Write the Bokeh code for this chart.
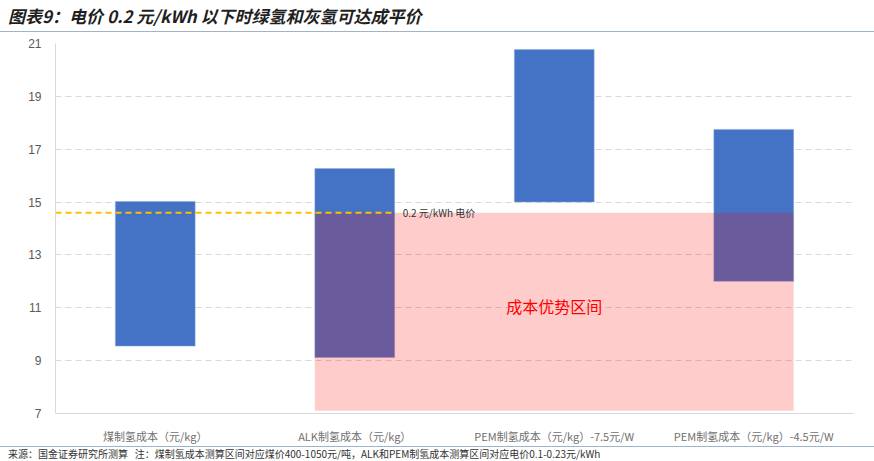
from bokeh.plotting import figure
from bokeh.models import ColumnDataSource, Range1d, FactorRange, FixedTicker, Div
from bokeh.layouts import column
from bokeh.core.properties import value
from bokeh.embed import file_html
from bokeh.resources import INLINE

# ---- data ----
categories = ["煤制氢成本（元/kg）", "ALK制氢成本（元/kg）",
              "PEM制氢成本（元/kg）-7.5元/W", "PEM制氢成本（元/kg）-4.5元/W"]
low = [9.55, 9.12, 15.0, 12.0]
high = [15.02, 16.27, 20.77, 17.75]
y_ticks = [7, 9, 11, 13, 15, 17, 19, 21]
threshold = 14.6
threshold_label = "0.2 元/kWh 电价"
zone_bottom = 7.1
zone_label = "成本优势区间"
zone_label_y = 11.05
title_text = "图表9：电价 0.2 元/kWh 以下时绿氢和灰氢可达成平价"
foot_text = ("来源：国金证券研究所测算&nbsp;&nbsp;&nbsp;注：煤制氢成本测算区间对应煤价400-1050元/吨，"
             "ALK和PEM制氢成本测算区间对应电价0.1-0.23元/kWh")

# ---- style ----
BAR_W = 0.4
FONT = "Noto Sans CJK SC"
BLUE = "#4472C4"
RULE = "#9FB4CB"
W = 874

title_div = Div(width=W, height=32,
                styles={"overflow": "hidden", "margin": "0", "padding": "0"},
                text=(
    f'<div style="box-sizing:border-box;width:{W}px;height:32px;margin:0;padding:6px 0 0 8px;'
    f'line-height:20px;border-bottom:1px solid {RULE};font-family:\'{FONT}\';font-size:17px;'
    f'font-weight:bold;font-style:italic;color:#1F1F1F;white-space:nowrap;">'
    f'{title_text}</div>'))

p = figure(x_range=FactorRange(*categories), y_range=Range1d(7, 21),
           width=W, height=414, output_backend="svg", toolbar_location=None,
           min_border_left=55, min_border_right=21, min_border_top=11, min_border_bottom=33)
p.outline_line_color = None
p.xgrid.grid_line_color = None
p.ygrid.grid_line_color = "#D9D9D9"
p.ygrid.grid_line_dash = "6 4"
p.yaxis.ticker = FixedTicker(ticks=y_ticks)
for ax in (p.xaxis, p.yaxis):
    ax.axis_line_color = "#D9D9D9"
    ax.major_tick_line_color = None
    ax.minor_tick_line_color = None
    ax.major_label_text_color = "#595959"
p.xaxis.major_label_text_color = "#6F6F6F"
p.yaxis.major_label_text_font = "Liberation Sans"
p.yaxis.major_label_text_font_size = "12px"
p.yaxis.major_label_standoff = 8
p.xaxis.major_label_text_font = FONT
p.xaxis.major_label_text_font_size = "11px"
p.xaxis.major_label_standoff = 8

src = ColumnDataSource(dict(cat=categories, low=low, high=high))
p.vbar(x="cat", width=BAR_W, top="high", bottom="low", source=src,
       fill_color=BLUE, line_color="#8FAADC", line_width=0.5)

alk = 1
pem45 = 3
zone_left = alk + 0.5 - BAR_W / 2
zone_right = pem45 + 0.5 + BAR_W / 2
p.quad(left=[zone_left], right=[zone_right], bottom=[zone_bottom], top=[threshold],
       fill_color="red", fill_alpha=0.2, line_color=None)

p.segment(x0=[0], x1=[alk + 0.5 + BAR_W / 2], y0=[threshold], y1=[threshold],
          line_color="#FFC000", line_width=2, line_dash="6 4")
p.text(x=[alk + 0.5 + BAR_W / 2], y=[threshold], text=[threshold_label], x_offset=8,
       text_font=value(FONT), text_font_size="10px", text_color="#333333",
       text_baseline="middle", text_align="left")
p.text(x=[(zone_left + zone_right) / 2], y=[zone_label_y], text=[zone_label],
       text_font=value(FONT), text_font_size="16px", text_color="#FF0000",
       text_baseline="middle", text_align="center")

foot_div = Div(width=W, height=15,
               styles={"overflow": "hidden", "margin": "0", "padding": "0"},
               text=(
    f'<div style="box-sizing:border-box;width:{W}px;height:15px;margin:0;padding:1px 0 0 8px;'
    f'line-height:12px;border-top:1px solid {RULE};font-family:\'{FONT}\';font-size:10px;'
    f'color:#333333;white-space:nowrap;">{foot_text}</div>'))

layout = column(title_div, p, foot_div, spacing=0)
open("out.html", "w").write(file_html(layout, INLINE))
